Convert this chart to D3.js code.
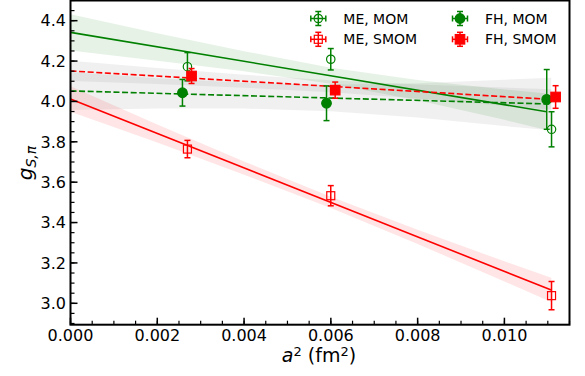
<!DOCTYPE html>
<html><head><meta charset="utf-8">
<script src="https://cdn.jsdelivr.net/npm/d3@7"></script>
<style>body{margin:0;background:#fff}svg{display:block}text{font-family:"DejaVu Sans",sans-serif}</style>
</head><body><svg id="c" width="585" height="376"></svg>
<script>
// ---- data ----
const xTicks = [0.000, 0.002, 0.004, 0.006, 0.008, 0.010];
const yTicks = [3.0, 3.2, 3.4, 3.6, 3.8, 4.0, 4.2, 4.4];

const meMomX = [0.002695, 0.005998, 0.011086];
const meMomY = [4.172, 4.209, 3.862];
const meMomE = [0.070, 0.053, 0.087];

const fhMomX = [0.00258, 0.0059, 0.010975];
const fhMomY = [4.043, 3.991, 4.010];
const fhMomE = [0.066, 0.086, 0.148];

const meSmomX = [0.002695, 0.005998, 0.011086];
const meSmomY = [3.764, 3.533, 3.038];
const meSmomE = [0.043, 0.050, 0.070];

const fhSmomX = [0.00279, 0.0061, 0.01118];
const fhSmomY = [4.126, 4.056, 4.022];
const fhSmomE = [0.037, 0.040, 0.056];

// fit lines (end points) and confidence bands
const fitGreenSolidX = [0, 0.010975], fitGreenSolidY = [4.342, 3.949];
const fitGreenDashX  = [0, 0.01108],  fitGreenDashY  = [4.052, 3.987];
const fitRedDashX    = [0, 0.01108],  fitRedDashY    = [4.151, 4.010];
const fitRedSolidX   = [0, 0.01108],  fitRedSolidY   = [4.012, 3.066];

const bandGreenSolidX = [0, 0.002, 0.004, 0.006, 0.008, 0.010, 0.010975];
const bandGreenSolidLo = [4.252, 4.202, 4.149, 4.087, 4.006, 3.909, 3.859];
const bandGreenSolidHi = [4.432, 4.338, 4.249, 4.167, 4.106, 4.059, 4.039];

const bandOtherX = [0, 0.002, 0.004, 0.006, 0.008, 0.010, 0.01108];
const bandGreenDashLo = [3.958, 3.965, 3.965, 3.951, 3.920, 3.878, 3.857];
const bandGreenDashHi = [4.146, 4.115, 4.093, 4.083, 4.090, 4.108, 4.117];
const bandRedDashLo = [4.101, 4.086, 4.068, 4.045, 4.014, 3.979, 3.960];
const bandRedDashHi = [4.201, 4.166, 4.132, 4.105, 4.084, 4.069, 4.060];
const bandRedSolidLo = [3.949, 3.796, 3.637, 3.472, 3.294, 3.108, 3.006];
const bandRedSolidHi = [4.075, 3.886, 3.703, 3.528, 3.364, 3.208, 3.126];

const legendLabels = ["ME, MOM", "ME, SMOM", "FH, MOM", "FH, SMOM"];

// ---- drawing ----
const G = "#008000", R = "#ff0000";
const svg = d3.select("#c");
const L = 70.5, Rgt = 569.5, T = 0.5, B = 324.7;
const x = d3.scaleLinear().domain([0, 0.0115]).range([L, Rgt]);
const y = d3.scaleLinear().domain([2.894, 4.5]).range([B, T]);

const plot = svg.append("g");
svg.append("defs").append("clipPath").attr("id","clip").append("rect")
  .attr("x", L).attr("y", T).attr("width", Rgt-L).attr("height", B-T);
plot.attr("clip-path","url(#clip)");

function band(xs, lo, hi, color, op) {
  const area = d3.area().x((d,i)=>x(xs[i])).y0((d,i)=>y(lo[i])).y1((d,i)=>y(hi[i]));
  plot.append("path").attr("d", area(xs)).attr("fill", color).attr("fill-opacity", op).attr("stroke","none");
}
band(bandOtherX, bandGreenDashLo, bandGreenDashHi, "#808080", 0.12);
band(bandOtherX, bandRedDashLo, bandRedDashHi, "#808080", 0.12);
band(bandGreenSolidX, bandGreenSolidLo, bandGreenSolidHi, G, 0.1);
band(bandOtherX, bandRedSolidLo, bandRedSolidHi, R, 0.1);

function fit(xs, ys, color, dash) {
  const line = d3.line().x((d,i)=>x(xs[i])).y((d,i)=>y(ys[i]));
  plot.append("path").attr("d", line(xs)).attr("fill","none").attr("stroke", color)
    .attr("stroke-width", 1.6).attr("stroke-dasharray", dash ? "6,2.6" : null);
}
fit(fitGreenSolidX, fitGreenSolidY, G, false);
fit(fitGreenDashX, fitGreenDashY, G, true);
fit(fitRedDashX, fitRedDashY, R, true);
fit(fitRedSolidX, fitRedSolidY, R, false);

function marker(g, cx, cy, shape, filled, color) {
  if (shape === "circle") {
    g.append("circle").attr("cx", cx).attr("cy", cy).attr("r", filled ? 4.8 : 4.2)
      .attr("fill", filled ? color : "none").attr("stroke", color).attr("stroke-width", 1.2);
  } else {
    const s = filled ? 9.5 : 8;
    g.append("rect").attr("x", cx - s/2).attr("y", cy - s/2).attr("width", s).attr("height", s)
      .attr("fill", filled ? color : "none").attr("stroke", color).attr("stroke-width", 1.2);
  }
}
function points(xs, ys, es, color, shape, filled) {
  const g = svg.append("g");
  xs.forEach((xv, i) => {
    const cx = x(xv), y1 = y(ys[i] + es[i]), y2 = y(ys[i] - es[i]);
    g.append("line").attr("x1", cx).attr("x2", cx).attr("y1", y1).attr("y2", y2)
      .attr("stroke", color).attr("stroke-width", 1.5);
    [y1, y2].forEach(yy => g.append("line").attr("x1", cx-3).attr("x2", cx+3).attr("y1", yy).attr("y2", yy)
      .attr("stroke", color).attr("stroke-width", 1.5));
    marker(g, cx, y(ys[i]), shape, filled, color);
  });
}
points(meMomX, meMomY, meMomE, G, "circle", false);
points(fhMomX, fhMomY, fhMomE, G, "circle", true);
points(meSmomX, meSmomY, meSmomE, R, "square", false);
points(fhSmomX, fhSmomY, fhSmomE, R, "square", true);

// ---- axes ----
const ax = svg.append("g");
const xMinor = d3.range(0, 0.01151, 0.0005);
xMinor.forEach(v => ax.append("line").attr("x1", x(v)).attr("x2", x(v)).attr("y1", B).attr("y2", B-4)
  .attr("stroke","#000").attr("stroke-width",1.2));
xTicks.forEach(v => {
  ax.append("line").attr("x1", x(v)).attr("x2", x(v)).attr("y1", B).attr("y2", B-7)
    .attr("stroke","#000").attr("stroke-width",1.5);
  ax.append("text").attr("x", x(v)).attr("y", 341).attr("text-anchor","middle")
    .attr("font-size", 16).text(v.toFixed(3));
});
const yMinor = d3.range(2.9, 4.501, 0.05);
yMinor.forEach(v => { if (y(v) >= T && y(v) <= B) ax.append("line").attr("x1", L).attr("x2", L+4)
  .attr("y1", y(v)).attr("y2", y(v)).attr("stroke","#000").attr("stroke-width",1.2); });
yTicks.forEach(v => {
  ax.append("line").attr("x1", L).attr("x2", L+7).attr("y1", y(v)).attr("y2", y(v))
    .attr("stroke","#000").attr("stroke-width",1.5);
  ax.append("text").attr("x", 66).attr("y", y(v)).attr("dy","0.36em").attr("text-anchor","end")
    .attr("font-size", 16).text(v.toFixed(1));
});
ax.append("rect").attr("x", L).attr("y", T).attr("width", Rgt-L).attr("height", B-T)
  .attr("fill","none").attr("stroke","#000").attr("stroke-width", 2);

// axis labels
const xl = svg.append("text").attr("x", 319).attr("y", 362).attr("text-anchor","middle").attr("font-size", 19);
xl.append("tspan").attr("font-style","italic").text("a");
xl.append("tspan").attr("font-size", 13).attr("dy", -6).text("2");
xl.append("tspan").attr("dy", 6).text(" (fm");
xl.append("tspan").attr("font-size", 13).attr("dy", -6).text("2");
xl.append("tspan").attr("dy", 6).text(")");

const yl = svg.append("text").attr("transform","translate(32,163) rotate(-90)")
  .attr("text-anchor","middle").attr("font-size", 20);
yl.append("tspan").attr("font-style","italic").text("g");
yl.append("tspan").attr("font-size", 14).attr("font-style","italic").attr("dy", 4).text("S,π");

// ---- legend ----
const legItems = [
  {lab: legendLabels[0], c: G, s: "circle", f: false, mx: 318.3, my: 18.5},
  {lab: legendLabels[1], c: R, s: "square", f: false, mx: 318.3, my: 39.3},
  {lab: legendLabels[2], c: G, s: "circle", f: true,  mx: 460,   my: 18.5},
  {lab: legendLabels[3], c: R, s: "square", f: true,  mx: 460,   my: 39.3}
];
const lg = svg.append("g");
legItems.forEach(d => {
  const g = lg.append("g");
  g.append("line").attr("x1", d.mx-7.5).attr("x2", d.mx+7.5).attr("y1", d.my).attr("y2", d.my).attr("stroke", d.c).attr("stroke-width",1.5);
  g.append("line").attr("x1", d.mx).attr("x2", d.mx).attr("y1", d.my-7).attr("y2", d.my+7).attr("stroke", d.c).attr("stroke-width",1.5);
  [-7.5, 7.5].forEach(o => g.append("line").attr("x1", d.mx+o).attr("x2", d.mx+o).attr("y1", d.my-3).attr("y2", d.my+3).attr("stroke", d.c).attr("stroke-width",1.5));
  [-7, 7].forEach(o => g.append("line").attr("x1", d.mx-3).attr("x2", d.mx+3).attr("y1", d.my+o).attr("y2", d.my+o).attr("stroke", d.c).attr("stroke-width",1.5));
  marker(g, d.mx, d.my, d.s, d.f, d.c);
  lg.append("text").attr("x", d.mx + 25).attr("y", d.my).attr("dy","0.36em").attr("font-size", 14).text(d.lab);
});
</script></body></html>
